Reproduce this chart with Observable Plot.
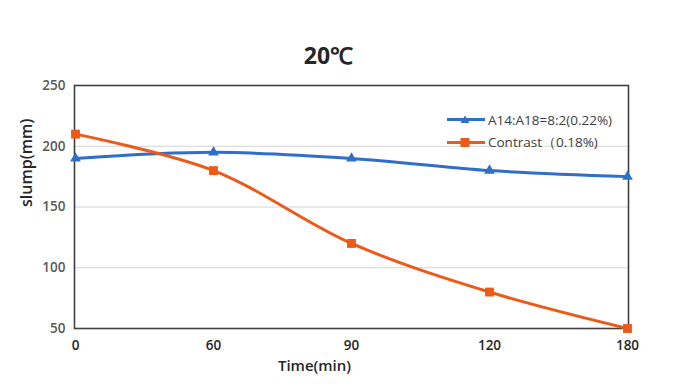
<!DOCTYPE html>
<html>
<head>
<meta charset="utf-8">
<script src="https://cdn.jsdelivr.net/npm/d3@7"></script>
<script src="https://cdn.jsdelivr.net/npm/@observablehq/plot@0.6"></script>
<style>
  html, body { margin: 0; padding: 0; background: #fff; }
  #wrap { position: relative; width: 698px; height: 391px; font-family: "Open Sans", "Liberation Sans", sans-serif; }
  #legend { position: absolute; left: 446px; top: 108px; font-size: 13.5px; color: #404040; }
  #legend .row { display: flex; align-items: center; height: 23px; }
  #legend svg { margin-right: 2px; }
</style>
</head>
<body>
<div id="wrap"></div>
<script>
const times = ["0", "60", "90", "120", "180"];
const seriesA = [190, 195, 190, 180, 175];   // A14:A18=8:2(0.22%)
const seriesB = [210, 180, 120, 80, 50];     // Contrast（0.18%)
const yTicks = [50, 100, 150, 200, 250];
const nameA = "A14:A18=8:2(0.22%)";
const nameB = "Contrast（0.18%)";
const colorA = "#2f6ecb";
const colorB = "#ec5a17";

const rowsA = times.map((t, i) => ({t, v: seriesA[i]}));
const rowsB = times.map((t, i) => ({t, v: seriesB[i]}));

const chart = Plot.plot({
  width: 698,
  height: 391,
  marginLeft: 74,
  marginRight: 70,
  marginTop: 85,
  marginBottom: 63,
  style: {fontFamily: "'Open Sans', 'Liberation Sans', sans-serif", fontSize: "13px", color: "#404040", background: "#fff"},
  x: {type: "point", domain: times, padding: 0, label: null},
  y: {domain: [50, 250], label: null},
  marks: [
    Plot.gridY(yTicks.filter(d => d > 50 && d < 250), {stroke: "#d4d4d4", strokeOpacity: 1, strokeWidth: 1}),
    Plot.frame({stroke: "#404040", strokeWidth: 1.6}),
    Plot.axisX({tickSize: 0, tickPadding: 12, fontWeight: 600, fill: "#262626", fontSize: 13.5, label: null}),
    Plot.axisY({ticks: yTicks, tickSize: 0, tickPadding: 9, fontWeight: 600, fill: "#595959", fontSize: 13.5, label: null}),
    Plot.text(["Time(min)"], {frameAnchor: "bottom", dy: 42, dx: -37, fontSize: 15, fontWeight: 600, fill: "#262626"}),
    Plot.text(["slump(mm)"], {frameAnchor: "left", dx: -48, dy: 0, rotate: -90, fontSize: 16, fontWeight: 600, fill: "#262626"}),
    Plot.text(["20℃"], {frameAnchor: "top", dy: -38, dx: -23, fontSize: 23, fontWeight: 700, fill: "#262626"}),
    Plot.line(rowsA, {x: "t", y: "v", stroke: colorA, strokeWidth: 3, curve: "catmull-rom"}),
    Plot.line(rowsB, {x: "t", y: "v", stroke: colorB, strokeWidth: 3, curve: "catmull-rom"}),
    Plot.dot(rowsA, {x: "t", y: "v", symbol: "triangle", r: 4, fill: colorA, stroke: "none"}),
    Plot.dot(rowsB, {x: "t", y: "v", symbol: "square", r: 5, fill: colorB, stroke: "none"})
  ]
});

const wrap = document.getElementById("wrap");
wrap.appendChild(chart);

const legend = document.createElement("div");
legend.id = "legend";
function row(name, color, symbol) {
  const r = document.createElement("div");
  r.className = "row";
  const marker = symbol === "triangle"
    ? `<path d="M19,2.5 L23.5,10 L14.5,10 Z" fill="${color}"/>`
    : `<rect x="14.5" y="2" width="9" height="9" fill="${color}"/>`;
  r.innerHTML = `<svg width="40" height="13"><line x1="1" x2="39" y1="6.5" y2="6.5" stroke="${color}" stroke-width="3"/>${marker}</svg><span>${name}</span>`;
  return r;
}
legend.appendChild(row(nameA, colorA, "triangle"));
legend.appendChild(row(nameB, colorB, "square"));
wrap.appendChild(legend);
</script>
</body>
</html>
